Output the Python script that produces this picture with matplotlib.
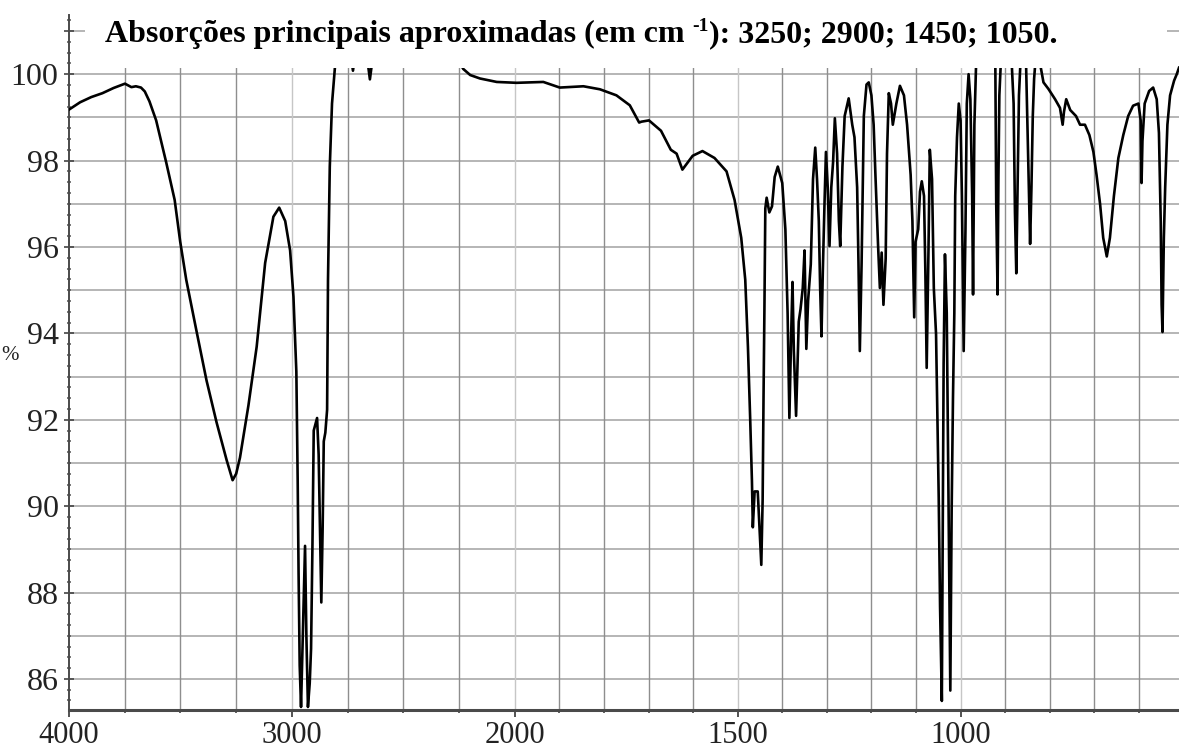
import numpy as np
import matplotlib
matplotlib.use("Agg")
import matplotlib.pyplot as plt
from matplotlib.patches import Rectangle

# ---------------- data (wavenumber cm-1, transmittance %) ----------------
wn_high = [4000, 3950, 3900, 3850, 3800, 3749, 3720, 3700, 3677, 3660, 3639, 3609,
           3564, 3526, 3501, 3474, 3429, 3383, 3338, 3293, 3266, 3250, 3233, 3195,
           3158, 3120, 3083, 3057, 3030, 3008, 2993, 2980, 2974, 2970, 2965, 2959,
           2950, 2941, 2935, 2928, 2920, 2914, 2908, 2902, 2887, 2880, 2875, 2868,
           2862, 2857, 2850, 2842, 2838, 2830, 2820, 2810, 2800, 2780, 2740, 2726,
           2712, 2670, 2658, 2650, 2642, 2630, 2600, 2400, 2300, 2240, 2231]
t_high = [99.18, 99.35, 99.47, 99.56, 99.68, 99.78, 99.70, 99.72, 99.69, 99.60, 99.37, 98.93,
          97.96, 97.09, 96.12, 95.24, 94.08, 92.91, 91.94, 91.07, 90.60, 90.75, 91.12, 92.33,
          93.69, 95.63, 96.70, 96.91, 96.60, 95.92, 94.85, 93.11, 90.58, 88.45, 86.31, 85.35,
          87.20, 89.08, 87.00, 85.35, 85.90, 86.70, 89.00, 91.75, 92.04, 91.20, 89.80, 87.77,
          89.50, 91.50, 91.70, 92.23, 95.24, 97.86, 99.32, 99.95, 100.60, 100.80, 100.60, 100.08,
          100.60, 100.50, 100.20, 99.88, 100.20, 100.50, 100.80, 100.80, 100.60, 100.20, 100.12]

wn_mid = [2200, 2156, 2081, 1996, 1936, 1899, 1846, 1809, 1772, 1742, 1721, 1716,
          1699, 1672, 1650, 1637, 1624, 1601, 1579, 1552, 1525, 1507, 1492, 1483,
          1477, 1472, 1468, 1466, 1462, 1455, 1451, 1447, 1444, 1442, 1440, 1438,
          1435, 1429, 1423, 1417, 1410, 1400, 1393, 1388, 1384, 1380, 1377, 1374,
          1369, 1363, 1359, 1354, 1350, 1346, 1342, 1336, 1331, 1326, 1322, 1318,
          1315, 1312, 1309, 1305]
t_mid = [99.98, 99.90, 99.82, 99.80, 99.82, 99.69, 99.72, 99.65, 99.51, 99.28, 98.88, 98.90,
         98.93, 98.69, 98.25, 98.16, 97.79, 98.11, 98.22, 98.06, 97.75, 97.09, 96.21, 95.24,
         93.69, 92.04, 90.58, 89.51, 90.34, 90.34, 89.51, 88.64, 90.15, 92.52, 94.56, 96.89,
         97.14, 96.80, 96.94, 97.62, 97.86, 97.48, 96.41, 94.47, 92.04, 93.98, 95.19, 93.59,
         92.09, 94.27, 94.56, 95.05, 95.92, 93.64, 94.76, 95.60, 97.57, 98.30, 97.57, 96.60,
         95.05, 93.93, 95.44, 97.09]

wn_fp = [1302, 1298, 1294, 1290, 1286, 1282, 1277, 1273, 1270, 1265, 1260, 1251,
         1243, 1238, 1232, 1229, 1226, 1222, 1217, 1211, 1206, 1200, 1195, 1191,
         1185, 1181, 1177, 1173, 1168, 1165, 1161, 1156, 1152, 1144, 1136, 1127,
         1120, 1112, 1108, 1104, 1101, 1095, 1091, 1087, 1082, 1079, 1076, 1072,
         1069, 1064, 1060, 1055, 1052, 1049, 1046, 1042, 1038, 1035, 1031, 1027,
         1023, 1020, 1017, 1014, 1012, 1008, 1004, 1000, 997, 993, 989, 986,
         982, 978, 974, 972, 969, 965, 958, 930, 922, 920, 917, 915,
         913, 910]
t_fp = [98.20, 97.38, 96.02, 97.38, 97.96, 98.98, 98.16, 96.60, 96.02, 97.86, 99.03, 99.44,
        98.83, 98.54, 97.38, 95.63, 93.59, 95.63, 99.03, 99.76, 99.81, 99.51, 98.83, 97.67,
        96.02, 95.05, 95.87, 94.66, 95.73, 98.16, 99.56, 99.32, 98.83, 99.32, 99.73, 99.51,
        98.83, 97.67, 96.60, 94.37, 96.12, 96.41, 97.28, 97.52, 97.18, 95.44, 93.20, 95.92,
        98.25, 97.57, 95.05, 93.98, 92.04, 90.19, 87.67, 85.49, 93.30, 95.83, 94.47, 90.10,
        85.73, 89.90, 92.52, 94.47, 97.18, 98.54, 99.32, 98.93, 97.18, 93.59, 96.41, 99.32,
        100.00, 99.42, 97.18, 94.90, 98.83, 100.30, 100.60, 100.60, 100.20, 96.99, 94.90, 97.67,
        99.51, 100.20]

wn_low = [900, 890, 885, 881, 878, 875, 872, 869, 866, 860, 853, 850,
          847, 844, 841, 838, 835, 832, 825, 820, 814, 803, 788, 777,
          771, 768, 763, 754, 741, 732, 721, 711, 702, 695, 687, 680,
          672, 665, 656, 646, 635, 624, 613, 601, 596, 594, 592, 587,
          577, 568, 560, 555, 551, 549, 547, 544, 541, 536, 530, 521,
          515, 510]
t_low = [100.60, 100.60, 100.20, 99.32, 96.80, 95.39, 97.38, 99.51, 100.20, 100.60, 100.20, 98.83,
         97.38, 96.07, 97.38, 99.03, 99.90, 100.30, 100.60, 100.15, 99.81, 99.66, 99.42, 99.22,
         98.83, 99.13, 99.42, 99.17, 99.03, 98.83, 98.83, 98.59, 98.20, 97.67, 96.99, 96.21,
         95.78, 96.21, 97.18, 98.06, 98.59, 99.03, 99.27, 99.32, 98.93, 97.48, 98.45, 99.32,
         99.61, 99.69, 99.42, 98.64, 96.60, 94.66, 94.03, 96.21, 97.38, 98.83, 99.51, 99.85,
         100.00, 100.15]

x_major = [4000, 3000, 2000, 1500, 1000]
x_minor = [3750, 3500, 3250, 2750, 2500, 2250, 1900, 1800, 1700, 1600,
           1400, 1300, 1200, 1100, 900, 800, 700, 600]
y_labels = [86, 88, 90, 92, 94, 96, 98, 100]
title_main = "Absorções principais aproximadas (em cm "
title_sup = "-1"
title_tail = "): 3250; 2900; 1450; 1050."

wn = np.array(wn_high + wn_mid + wn_fp + wn_low, dtype=float)
tr = np.array(t_high + t_mid + t_fp + t_low, dtype=float)

# ---------------- style ----------------
plt.rcParams["font.family"] = ["Liberation Serif", "DejaVu Serif"]

W, H = 1179, 749
fig = plt.figure(figsize=(W / 100, H / 100), dpi=100)
ax = fig.add_axes([69 / W, 1 - 710 / H, 1 - 69 / W, (710 - 15) / H])


def fwd(x):
    x = np.asarray(x, dtype=float)
    return np.where(x > 2000, 2000 + (x - 2000) / 2.0, x)


def inv(t):
    t = np.asarray(t, dtype=float)
    return np.where(t > 2000, 2000 + 2.0 * (t - 2000), t)


ax.set_xscale("function", functions=(fwd, inv))
ax.set_xlim(4000, 510)
ax.set_ylim(85.28, 101.37)

# grid
for v in range(86, 102):
    ax.axhline(v, color="#a9a9a9", lw=1.2, zorder=0.5)
for v in x_minor:
    ax.axvline(v, color="#8e8e8e", lw=1.0, zorder=0.5)
for v in x_major[1:]:
    ax.axvline(v, color="#c6c6c6", lw=1.0, zorder=0.5)

ax.plot(wn, tr, color="black", lw=1.9, zorder=3)

# ticks
ax.set_xticks(x_major)
ax.set_xticklabels([str(v) for v in x_major])
ax.set_xticks(x_minor, minor=True)
ax.set_yticks(y_labels + [101])
ax.set_yticklabels([str(v) for v in y_labels] + [""])
ax.set_yticks(np.arange(85.5, 101.3, 0.25), minor=True)

ax.tick_params(axis="x", which="major", direction="out", length=5, width=1.3,
               color="#444444", labelsize=22, pad=3, labelcolor="#222222")
ax.tick_params(axis="x", which="minor", direction="out", length=2.5, width=1.2,
               color="#444444")
ax.tick_params(axis="y", which="major", direction="inout", length=7, width=1.2,
               color="#444444", labelsize=23, pad=4, labelcolor="#222222")
ax.tick_params(axis="y", which="minor", direction="inout", length=3.5, width=1.1,
               color="#555555")

for s in ["top", "right"]:
    ax.spines[s].set_visible(False)
ax.spines["bottom"].set_color("#4a4a4a")
ax.spines["bottom"].set_linewidth(2.2)
ax.spines["left"].set_color("#4a4a4a")
ax.spines["left"].set_linewidth(1.4)

# white band covering the top of the frame (as in the reference)
fig.add_artist(Rectangle((85 / W, 1 - 68 / H), (1167 - 85) / W, 68 / H,
                         transform=fig.transFigure, facecolor="white",
                         edgecolor="none", zorder=5))

# title in three pieces: main text, small raised "-1", tail
fig.canvas.draw()
renderer = fig.canvas.get_renderer()
fs = 23
base_y = 1 - 42 / H
t1 = fig.text(0, base_y, title_main, fontsize=fs, fontweight="bold",
              ha="left", va="baseline", zorder=6)
t2 = fig.text(0, base_y + 11 / H, title_sup, fontsize=14, fontweight="bold",
              ha="left", va="baseline", zorder=6)
t3 = fig.text(0, base_y, title_tail, fontsize=fs, fontweight="bold",
              ha="left", va="baseline", zorder=6)
w1 = t1.get_window_extent(renderer).width
w2 = t2.get_window_extent(renderer).width
w3 = t3.get_window_extent(renderer).width
total = w1 + w2 + w3
x0 = 581 - total / 2
t1.set_x(x0 / W)
t2.set_x((x0 + w1) / W)
t3.set_x((x0 + w1 + w2) / W)

fig.text(1 / W, 1 - 356 / H, "%", fontsize=15, ha="left", va="center",
         color="#222222")

fig.savefig("out.png", dpi=100)
